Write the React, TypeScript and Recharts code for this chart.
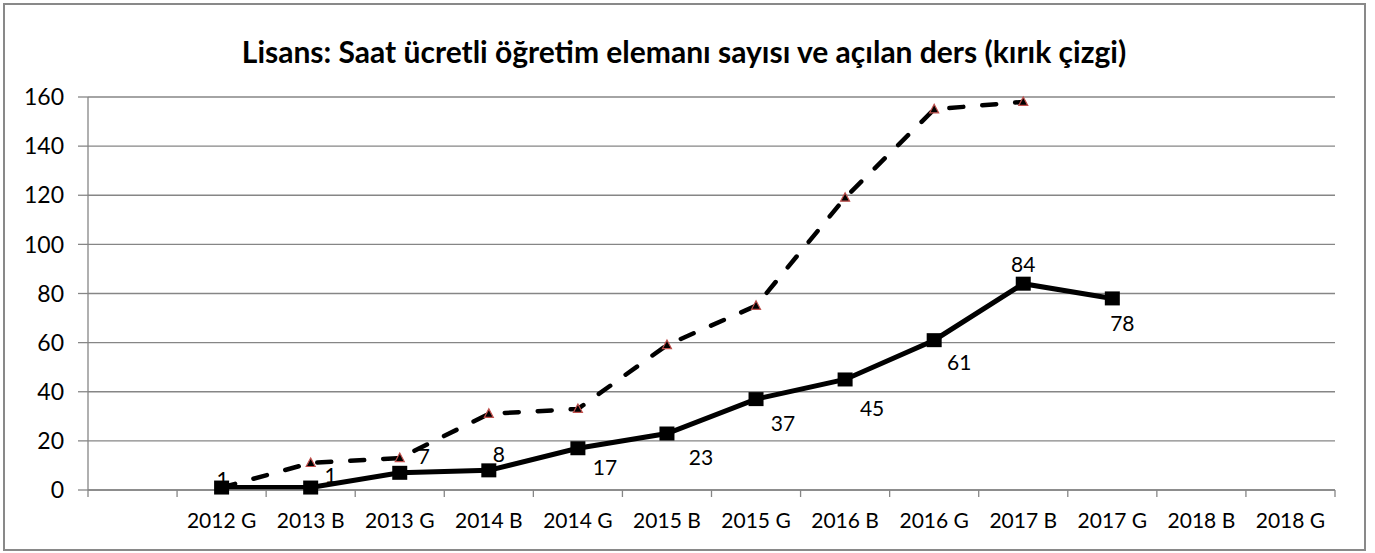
import { CartesianGrid, Line, LineChart, XAxis, YAxis } from "recharts";

const CATEGORIES = [
  "",
  "2012 G",
  "2013 B",
  "2013 G",
  "2014 B",
  "2014 G",
  "2015 B",
  "2015 G",
  "2016 B",
  "2016 G",
  "2017 B",
  "2017 G",
  "2018 B",
  "2018 G",
];
// öğretim elemanı sayısı (düz çizgi)
const INSTRUCTORS = [null, 1, 1, 7, 8, 17, 23, 37, 45, 61, 84, 78, null, null];
// açılan ders (kırık çizgi)
const COURSES = [null, 1, 11, 13, 31, 33, 59, 75, 119, 155, 158, null, null, null];
const Y_TICKS = [0, 20, 40, 60, 80, 100, 120, 140, 160];

const W = 1375;
const H = 553;
const PLOT_LEFT = 88;
const PLOT_RIGHT = 1335;
const BAND = (PLOT_RIGHT - PLOT_LEFT) / CATEGORIES.length;
const FONT = "Lato, 'Open Sans', sans-serif";
const GRID = "#868686";

const data = CATEGORIES.map((c, i) => ({
  cat: c,
  instructors: INSTRUCTORS[i],
  courses: COURSES[i],
}));

// etiketlerin noktaya göre kaydırması (Excel'de elle yerleştirilmiş)
const LABEL_SHIFT: Record<number, [number, number]> = {
  1: [1, -8],
  2: [20, -12],
  3: [24, -16],
  4: [10, -16],
  5: [27, 19],
  6: [34, 24],
  7: [27, 24],
  8: [27, 29],
  9: [25, 22],
  10: [0, -19],
  11: [10, 25],
};

function XTick(props: any) {
  const { x, y, payload, index, visibleTicksCount } = props;
  const half = BAND / 2;
  return (
    <g>
      <line x1={x - half} y1={y} x2={x - half} y2={y + 7} stroke={GRID} strokeWidth={1.3} />
      {index === visibleTicksCount - 1 && (
        <line x1={x + half} y1={y} x2={x + half} y2={y + 7} stroke={GRID} strokeWidth={1.3} />
      )}
      <text x={x} y={y + 38} textAnchor="middle" fontFamily={FONT} fontSize={21} fill="#000">
        {payload.value}
      </text>
    </g>
  );
}

function SquareDot(props: any) {
  const { cx, cy, index } = props;
  if (cx == null || cy == null || props.value == null) return <g key={index} />;
  return <rect key={index} x={cx - 7.5} y={cy - 7} width={15} height={14} fill="#000" />;
}

function TriangleDot(props: any) {
  const { cx, cy, index } = props;
  if (cx == null || cy == null || props.value == null) return <g key={index} />;
  return (
    <polygon
      key={index}
      points={`${cx},${cy - 5} ${cx + 4.5},${cy + 3.5} ${cx - 4.5},${cy + 3.5}`}
      fill="#000"
      stroke="#C0504D"
      strokeWidth={1.2}
    />
  );
}

function ValueLabel(props: any) {
  const { x, y, value, index } = props;
  if (value == null) return null;
  const [dx, dy] = LABEL_SHIFT[index] ?? [0, -18];
  return (
    <text
      x={x + dx}
      y={y + dy}
      dy="0.36em"
      textAnchor="middle"
      fontFamily={FONT}
      fontSize={21}
      fill="#000"
    >
      {value}
    </text>
  );
}

export default function App() {
  return (
    <div style={{ position: "absolute", left: 0, top: 0, width: W, height: H, background: "#fff" }}>
      <div
        style={{
          position: "absolute",
          left: 3,
          top: 3,
          width: 1363,
          height: 548,
          boxSizing: "border-box",
          border: "2px solid #898989",
        }}
      />
      <div
        style={{
          position: "absolute",
          left: 0,
          top: 33,
          width: 1368,
          textAlign: "center",
          fontFamily: FONT,
          fontWeight: 700,
          fontSize: 30,
          lineHeight: "36px",
          color: "#000",
        }}
      >
        Lisans: Saat ücretli öğretim elemanı sayısı ve açılan ders (kırık çizgi)
      </div>
      <div style={{ position: "absolute", left: 0, top: 0 }}>
        <LineChart
          width={W}
          height={H}
          data={data}
          margin={{ top: 97, right: W - PLOT_RIGHT, bottom: 0, left: 0 }}
        >
          <CartesianGrid vertical={false} stroke={GRID} strokeWidth={1.3} />
          <XAxis
            dataKey="cat"
            interval={0}
            height={63}
            padding={{ left: BAND / 2, right: BAND / 2 }}
            tickSize={0}
            tickMargin={0}
            tickLine={false}
            stroke={GRID}
            strokeWidth={1.3}
            tick={<XTick />}
          />
          <YAxis
            width={PLOT_LEFT}
            domain={[0, 160]}
            ticks={Y_TICKS}
            interval={0}
            tickSize={10}
            tickMargin={14}
            stroke={GRID}
            strokeWidth={1.3}
            tick={{ fontFamily: FONT, fontSize: 23, fill: "#000" }}
          />
          <Line
            dataKey="courses"
            stroke="#000"
            strokeWidth={4.5}
            strokeDasharray="14 19"
            strokeLinecap="round"
            dot={<TriangleDot />}
            activeDot={false}
            isAnimationActive={false}
          />
          <Line
            dataKey="instructors"
            stroke="#000"
            strokeWidth={5}
            dot={<SquareDot />}
            activeDot={false}
            label={<ValueLabel />}
            isAnimationActive={false}
          />
        </LineChart>
      </div>
    </div>
  );
}
